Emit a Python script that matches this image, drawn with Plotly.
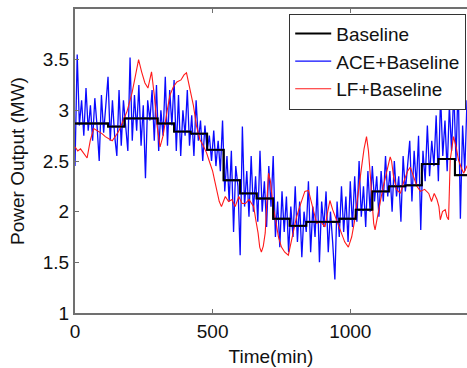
import plotly.graph_objects as go

# Baseline: hourly step values (MW)
base_t = [0, 60, 120, 180, 240, 300, 360, 420, 480, 540, 600, 660, 720, 780,
          840, 900, 960, 1020, 1080, 1140, 1200, 1260, 1320, 1380, 1440]
base_v = [2.87, 2.87, 2.84, 2.92, 2.92, 2.87, 2.79, 2.77, 2.61, 2.31, 2.18, 2.13,
          1.93, 1.86, 1.90, 1.90, 1.93, 2.02, 2.20, 2.25, 2.26, 2.47, 2.52, 2.36, 2.36]

# ACE+Baseline sampled every 8 minutes
ace_t = list(range(0, 1441, 8))
ace_v = [2.45, 3.55, 2.85, 3.10, 2.75, 3.22, 2.80, 3.05, 2.70, 3.12,
         2.85, 2.50, 3.15, 2.78, 3.05, 3.33, 2.70, 3.10, 2.75, 2.55,
         3.20, 2.65, 3.10, 2.85, 2.60, 3.52, 2.70, 3.15, 2.80, 3.25,
         2.65, 3.05, 2.33, 3.10, 2.90, 3.20, 2.70, 3.25, 2.60, 3.00,
         2.75, 3.33, 2.65, 3.20, 2.85, 3.30, 2.60, 3.15, 2.55, 3.00,
         2.75, 3.20, 2.65, 2.95, 2.55, 3.10, 2.70, 2.90, 2.50, 2.85,
         2.60, 2.75, 2.50, 2.80, 2.45, 2.70, 2.40, 2.90, 2.20, 2.55,
         2.10, 2.60, 1.80, 2.45, 2.25, 1.57, 2.84, 2.05, 2.40, 1.95,
         2.55, 2.00, 2.35, 1.90, 2.60, 2.00, 2.30, 1.85, 2.45, 2.05,
         2.55, 1.75, 2.10, 1.65, 2.20, 1.80, 2.15, 1.60, 2.05, 1.75,
         2.25, 1.70, 2.10, 1.55, 2.00, 1.80, 2.30, 1.60, 2.05, 1.75,
         2.25, 1.50, 2.10, 1.85, 2.20, 1.60, 2.00, 1.70, 1.33, 2.10,
         1.75, 2.25, 1.80, 2.15, 1.70, 2.30, 1.85, 2.35, 1.90, 2.50,
         1.95, 2.25, 1.85, 2.40, 2.00, 2.45, 2.10, 2.35, 1.95, 2.40,
         2.10, 2.55, 2.15, 2.40, 2.00, 2.50, 2.15, 2.35, 1.90, 2.55,
         2.20, 2.45, 2.70, 2.10, 2.60, 2.25, 2.75, 1.82, 2.60, 2.30,
         2.85, 2.35, 2.70, 2.45, 2.95, 2.30, 3.15, 2.55, 2.90, 2.40,
         3.05, 2.60, 3.20, 2.50, 3.30, 1.93, 2.85, 2.40, 3.10, 2.55,
         2.90]

# LF+Baseline
lf_t = [0, 10, 20, 30, 44, 50, 56, 68, 80, 98, 110, 122, 135, 146, 160, 171, 189,
        200, 207, 218, 231, 242, 254, 265, 278, 288, 298, 309, 320, 335, 345, 357,
        370, 385, 396, 405, 418, 430, 441, 454, 466, 478, 490, 500, 508, 516, 524,
        532, 540, 546, 558, 570, 582, 595, 607, 619, 632, 649, 658, 665, 671, 677,
        684, 691, 697, 703, 710, 720, 730, 739, 750, 762, 775, 790, 805, 820, 835,
        848, 860, 870, 878, 893, 908, 918, 926, 936, 950, 965, 980, 993, 1005,
        1015, 1023, 1032, 1041, 1050, 1059, 1066, 1073, 1080, 1085, 1090, 1098,
        1109, 1120, 1132, 1145, 1150, 1157, 1168, 1182, 1195, 1208, 1218, 1230,
        1242, 1255, 1270, 1285, 1295, 1305, 1315, 1322, 1327, 1335, 1345, 1351,
        1357, 1363, 1369, 1375, 1386, 1393, 1405, 1412, 1424, 1440]
lf_v = [2.64, 2.60, 2.62, 2.58, 2.53, 2.62, 2.71, 2.82, 2.80, 2.77, 2.74, 2.72,
        2.70, 2.74, 2.80, 2.87, 2.99, 3.10, 3.17, 3.32, 3.50, 3.38, 3.27, 3.22,
        3.38, 3.15, 2.85, 2.64, 2.75, 3.00, 3.15, 3.23, 3.28, 3.30, 3.35, 3.37,
        3.20, 3.05, 2.85, 2.71, 2.65, 2.58, 2.48, 2.40, 2.30, 2.18, 2.10, 2.05,
        2.12, 2.15, 2.10, 2.12, 2.05, 2.15, 2.08, 2.08, 2.12, 2.05, 1.90, 1.79,
        1.65, 1.60, 1.66, 1.79, 2.10, 2.38, 2.30, 2.05, 1.90, 1.75, 1.65, 1.60,
        1.57, 1.75, 1.95, 2.08, 2.20, 2.21, 2.08, 1.95, 1.885, 1.90, 1.85, 2.00,
        2.11, 2.02, 1.92, 1.80, 1.70, 1.65, 1.75, 1.90, 2.05, 2.25, 2.44, 2.62,
        2.74, 2.60, 2.35, 2.10, 1.885, 1.82, 1.95, 2.10, 2.25, 2.40, 2.54, 2.50,
        2.35, 2.22, 2.18, 2.30, 2.40, 2.44, 2.35, 2.25, 2.20, 2.22, 2.18, 2.10,
        2.18, 2.12, 2.05, 1.92, 2.00, 2.02, 1.95, 1.92, 2.51, 2.65, 2.74, 2.62,
        2.51, 2.42, 2.38, 2.45, 2.50]

FONT = "Liberation Sans, Arial, sans-serif"

fig = go.Figure()
fig.add_trace(go.Scatter(x=base_t, y=base_v, mode="lines", name="Baseline",
                         line=dict(color="#000000", width=2, shape="hv")))
fig.add_trace(go.Scatter(x=ace_t, y=ace_v, mode="lines", name="ACE+Baseline",
                         line=dict(color="#0a0aff", width=1.3)))
fig.add_trace(go.Scatter(x=lf_t, y=lf_v, mode="lines", name="LF+Baseline",
                         line=dict(color="#ff1a1a", width=1.1)))
# redraw baseline on top
fig.add_trace(go.Scatter(x=base_t, y=base_v, mode="lines", showlegend=False,
                         line=dict(color="#000000", width=1.8, shape="hv"),
                         hoverinfo="skip"))

fig.update_layout(
    width=467, height=368,
    margin=dict(l=75, r=0, t=9, b=55),
    paper_bgcolor="white", plot_bgcolor="white",
    font=dict(family=FONT, size=19, color="#111111"),
    showlegend=True,
    legend=dict(x=0.998, y=0.985, xanchor="right", yanchor="top",
                bgcolor="white", bordercolor="#333333", borderwidth=1,
                font=dict(family=FONT, size=19, color="#111111"),
                tracegroupgap=0, itemwidth=36),
)
fig.update_xaxes(
    range=[0, 1424], tickvals=[0, 500, 1000], ticks="inside", ticklen=4,
    tickcolor="#707070", showline=True, linecolor="#707070", linewidth=2,
    mirror="ticks", showgrid=False, zeroline=False,
    title=dict(text="Time(min)", standoff=9, font=dict(family=FONT, size=19)),
)
fig.update_yaxes(
    range=[1, 4], tickvals=[1, 1.5, 2, 2.5, 3, 3.5, 4],
    ticktext=["1", "1.5", "2", "2.5", "3", "3.5", "4"],
    ticks="inside", ticklen=4, tickcolor="#707070", showline=True,
    linecolor="#707070", linewidth=2, mirror=False, showgrid=False,
    zeroline=False,
    title=dict(text="Power Output (MW)", standoff=13, font=dict(family=FONT, size=19)),
)

fig.write_html("out.html")
